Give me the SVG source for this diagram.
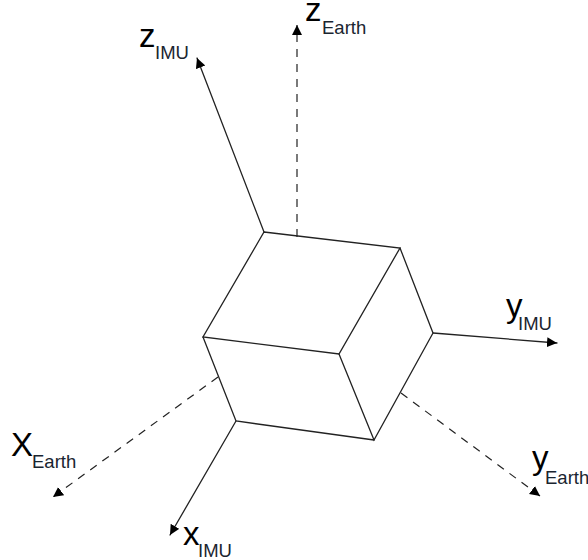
<svg xmlns="http://www.w3.org/2000/svg" width="588" height="560" viewBox="0 0 588 560">
<style>
.l{fill:none;stroke:#222;stroke-width:1.3;stroke-linecap:round}
.a{marker-end:url(#h)}
.d{stroke-dasharray:8 7;stroke-linecap:butt;stroke-width:1.2}
text{font-family:"Liberation Sans",Arial,sans-serif;fill:#000;font-size:33px}
.s{font-size:18.5px;fill:#1a2530}
</style>
<defs><marker id="h" markerUnits="userSpaceOnUse" markerWidth="12" markerHeight="12" refX="10" refY="5" orient="auto"><path d="M0 0L10 5L0 10Z" fill="#000"/></marker></defs>
<rect width="588" height="560" fill="#fff"/>
<g id="connectors">
<path class="l a" d="M264 232L197 58"/>
<path class="l d a" d="M297 237V25"/>
<path class="l a" d="M433 333L557 343"/>
<path class="l d a" d="M401 393L540 496"/>
<path class="l a" d="M236 421L170 535"/>
<path class="l d a" d="M218 377L53 497"/>
</g>
<g id="cube">
<path class="l" d="M264 232L400 248L339 354L203 337Z"/>
<path class="l" d="M400 248L433 333L374 440L339 354"/>
<path class="l" d="M203 337L236 421L374 440"/>
</g>
<g id="z-imu"><text x="139" y="47">z</text><text class="s" x="155" y="59">IMU</text></g>
<g id="z-earth"><text x="305" y="21">z</text><text class="s" x="322" y="34">Earth</text></g>
<g id="y-imu"><text x="506" y="317">y</text><text class="s" x="518" y="330">IMU</text></g>
<g id="y-earth"><text x="532" y="469">y</text><text class="s" x="545" y="484">Earth</text></g>
<g id="x-earth"><text x="11" y="456">X</text><text class="s" x="32" y="468">Earth</text></g>
<g id="x-imu"><text x="183" y="545">x</text><text class="s" x="198" y="557">IMU</text></g>
</svg>
